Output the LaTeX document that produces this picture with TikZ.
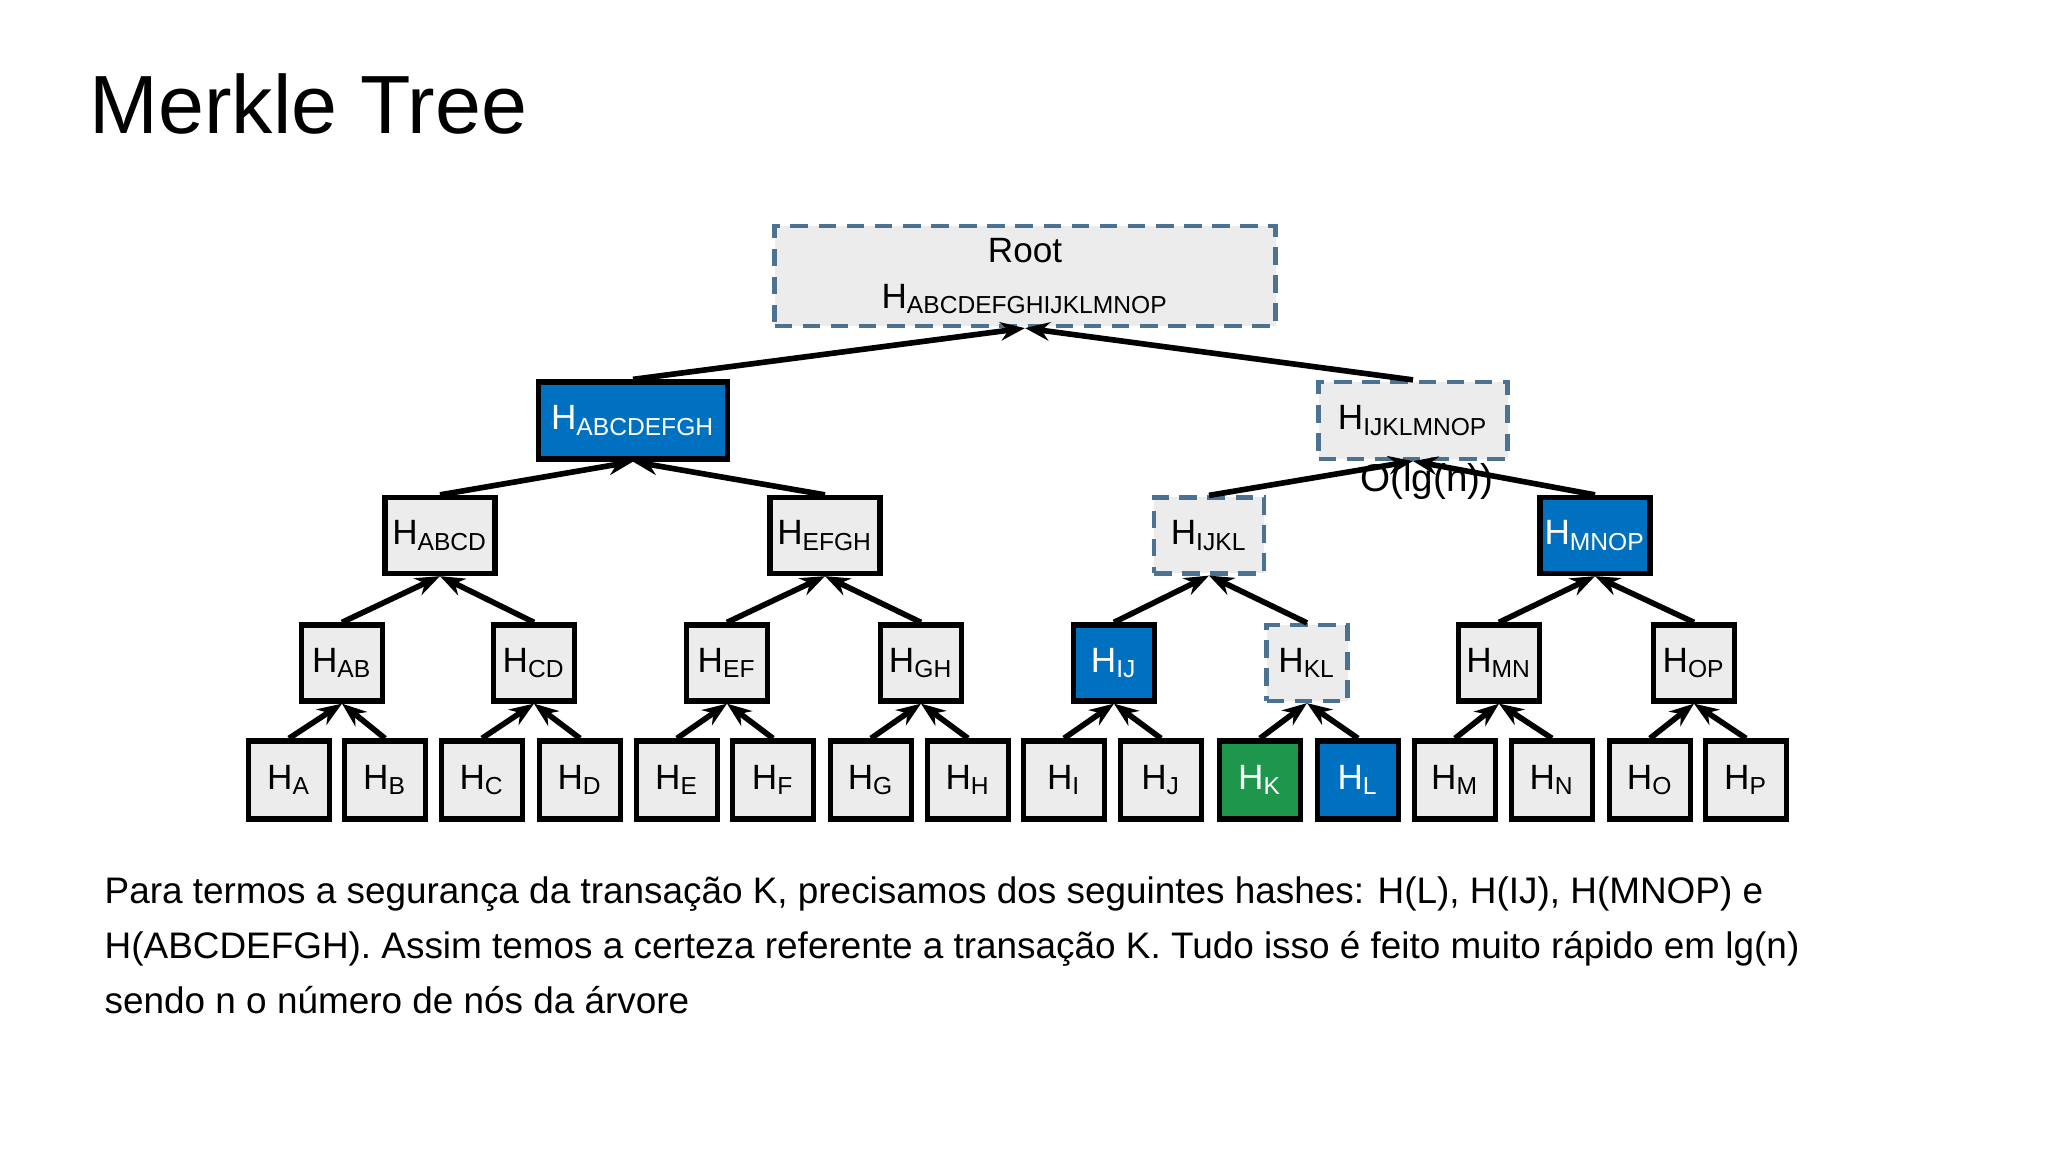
\documentclass[tikz,border=0pt]{standalone}
\usepackage{fontspec}
\setmainfont{Liberation Sans}
\usetikzlibrary{positioning,arrows.meta}
\definecolor{boxgray}{RGB}{236,236,236}
\definecolor{pathblue}{RGB}{0,112,192}
\definecolor{leafgreen}{RGB}{30,150,75}
\definecolor{dashcolor}{RGB}{75,115,145}
\newcommand{\hsub}[1]{H\textsubscript{#1}}

\begin{document}
\begin{tikzpicture}[
		% Box styles
		plain/.style={rectangle, fill=boxgray, draw=black, line width=1.5pt, inner sep=1pt,
			font=\fontsize{10}{12}\selectfont},
		leaf/.style={plain, minimum width=0.81cm, minimum height=0.78cm},
		pair/.style={plain, minimum width=0.81cm, minimum height=0.76cm},
		quad/.style={plain, minimum width=1.10cm, minimum height=0.76cm},
		half/.style={plain, minimum width=1.89cm, minimum height=0.77cm},
		proof/.style={fill=pathblue, text=white},
		target/.style={fill=leafgreen, text=white},
		computed/.style={draw=dashcolor, dashed, dash pattern=on 5pt off 3pt, line width=1.2pt},
		% Arrow style
		arrow/.style={-{Stealth[length=7pt]}, line width=1.6pt},
		% Text styles
		bodytext/.style={font=\fontsize{10.5}{15.6}\selectfont, align=left, anchor=north west, inner sep=0pt}
		]
		
		\useasboundingbox (0,0) rectangle (20.48,-11.52);
		
		% Title
		\node[font=\fontsize{23.5}{28}\selectfont, anchor=west, inner sep=0pt] (title) at (0.89,-1.04) {Merkle Tree};
		
		% Root
		\node[plain, computed, minimum width=5.01cm, minimum height=1.00cm, align=center] (root) at (10.25,-2.76)
			{Root\\[1pt]\hsub{ABCDEFGHIJKLMNOP}};
		
		% Level 2
		\node[half, proof] (habcdefgh) at (6.33,-4.205) {\hsub{ABCDEFGH}};
		\node[half, computed] (hijklmnop) at (14.13,-4.205) {\hsub{IJKLMNOP}};
		
		% Level 3
		\node[quad] (habcd) at (4.40,-5.355) {\hsub{ABCD}};
		\node[quad] (hefgh) at (8.25,-5.355) {\hsub{EFGH}};
		\node[quad, computed] (hijkl) at (12.09,-5.355) {\hsub{IJKL}};
		\node[quad, proof] (hmnop) at (15.95,-5.355) {\hsub{MNOP}};
		
		% Level 4
		\node[pair] (hab) at (3.42,-6.63) {\hsub{AB}};
		\node[pair] (hcd) at (5.34,-6.63) {\hsub{CD}};
		\node[pair] (hef) at (7.27,-6.63) {\hsub{EF}};
		\node[pair] (hgh) at (9.21,-6.63) {\hsub{GH}};
		\node[pair, proof] (hij) at (11.14,-6.63) {\hsub{IJ}};
		\node[pair, computed] (hkl) at (13.07,-6.63) {\hsub{KL}};
		\node[pair] (hmn) at (14.99,-6.63) {\hsub{MN}};
		\node[pair] (hop) at (16.94,-6.63) {\hsub{OP}};
		
		% Leaves
		\node[leaf] (ha) at (2.89,-7.80) {\hsub{A}};
		\node[leaf] (hb) at (3.85,-7.80) {\hsub{B}};
		\node[leaf] (hc) at (4.82,-7.80) {\hsub{C}};
		\node[leaf] (hd) at (5.80,-7.80) {\hsub{D}};
		\node[leaf] (he) at (6.77,-7.80) {\hsub{E}};
		\node[leaf] (hf) at (7.73,-7.80) {\hsub{F}};
		\node[leaf] (hg) at (8.71,-7.80) {\hsub{G}};
		\node[leaf] (hh) at (9.68,-7.80) {\hsub{H}};
		\node[leaf] (hi) at (10.64,-7.80) {\hsub{I}};
		\node[leaf] (hj) at (11.61,-7.80) {\hsub{J}};
		\node[leaf, target] (hk) at (12.60,-7.80) {\hsub{K}};
		\node[leaf, proof] (hl) at (13.58,-7.80) {\hsub{L}};
		\node[leaf] (hm) at (14.55,-7.80) {\hsub{M}};
		\node[leaf] (hn) at (15.52,-7.80) {\hsub{N}};
		\node[leaf] (ho) at (16.50,-7.80) {\hsub{O}};
		\node[leaf] (hp) at (17.46,-7.80) {\hsub{P}};
		
		% Arrows - leaves to pairs
		\draw[arrow] (ha.north) -- (hab.south);
		\draw[arrow] (hb.north) -- (hab.south);
		\draw[arrow] (hc.north) -- (hcd.south);
		\draw[arrow] (hd.north) -- (hcd.south);
		\draw[arrow] (he.north) -- (hef.south);
		\draw[arrow] (hf.north) -- (hef.south);
		\draw[arrow] (hg.north) -- (hgh.south);
		\draw[arrow] (hh.north) -- (hgh.south);
		\draw[arrow] (hi.north) -- (hij.south);
		\draw[arrow] (hj.north) -- (hij.south);
		\draw[arrow] (hk.north) -- (hkl.south);
		\draw[arrow] (hl.north) -- (hkl.south);
		\draw[arrow] (hm.north) -- (hmn.south);
		\draw[arrow] (hn.north) -- (hmn.south);
		\draw[arrow] (ho.north) -- (hop.south);
		\draw[arrow] (hp.north) -- (hop.south);
		
		% Arrows - pairs to quads
		\draw[arrow] (hab.north) -- (habcd.south);
		\draw[arrow] (hcd.north) -- (habcd.south);
		\draw[arrow] (hef.north) -- (hefgh.south);
		\draw[arrow] (hgh.north) -- (hefgh.south);
		\draw[arrow] (hij.north) -- (hijkl.south);
		\draw[arrow] (hkl.north) -- (hijkl.south);
		\draw[arrow] (hmn.north) -- (hmnop.south);
		\draw[arrow] (hop.north) -- (hmnop.south);
		
		% Arrows - upper levels
		\draw[arrow] (habcd.north) -- (habcdefgh.south);
		\draw[arrow] (hefgh.north) -- (habcdefgh.south);
		\draw[arrow] (hijkl.north) -- (hijklmnop.south);
		\draw[arrow] (hmnop.north) -- (hijklmnop.south);
		\draw[arrow] (habcdefgh.north) -- (root.south);
		\draw[arrow] (hijklmnop.north) -- (root.south);
		
		% Complexity note
		\node[font=\fontsize{11}{13}\selectfont, inner sep=0pt] (cost) at (14.27,-4.82) {O(lg(n))};
		
		% Explanation
		\node[bodytext] (note) at (1.04,-8.76)
			{Para termos a segurança da transação K, precisamos dos seguintes hashes: H(L), H(IJ), H(MNOP) e\\
			H(ABCDEFGH). Assim temos a certeza referente a transação K. Tudo isso é feito muito rápido em lg(n)\\
			sendo n o número de nós da árvore};
		
	\end{tikzpicture}
\end{document}
